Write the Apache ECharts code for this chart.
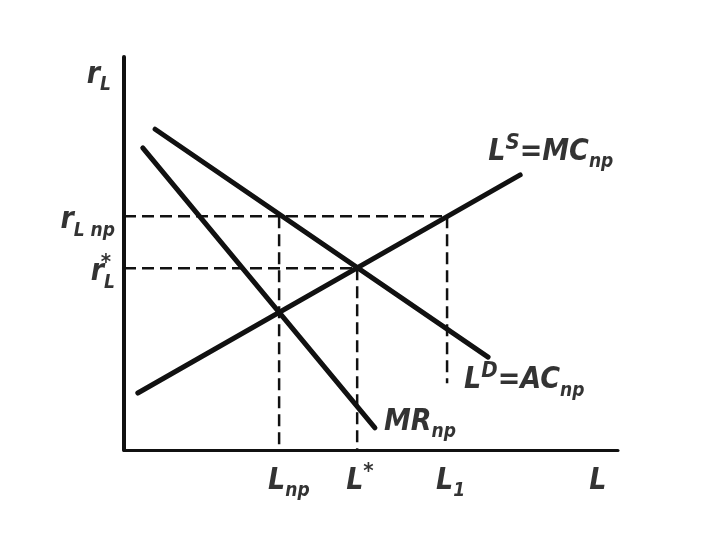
<!DOCTYPE html>
<html>
<head>
<meta charset="utf-8">
<script src="https://cdn.jsdelivr.net/npm/echarts@6/dist/echarts.min.js"></script>
<style>
  html, body { margin: 0; padding: 0; background: #fff; }
  #chart { width: 720px; height: 540px; }
</style>
</head>
<body>
<div id="chart"></div>
<script>
// points (axis units: L 0..10, r 0..8)
var mcLine = [[0.28, 1.16], [8.02, 5.60]];   // L^S = MC
var acLine = [[0.63, 6.53], [7.37, 1.89]];   // L^D = AC
var mrLine = [[0.38, 6.15], [5.08, 0.45]];   // MR

var Lnp = 3.14, Lstar = 4.72, L1 = 6.54;
var rNp = 4.76, rStar = 3.70;
var L1Bottom = 1.36;

var dashH1 = [[0, rNp], [L1, rNp]];
var dashH2 = [[0, rStar], [Lstar, rStar]];
var dashV1 = [[Lnp, rNp], [Lnp, 0]];
var dashV2 = [[Lstar, rStar], [Lstar, 0]];
var dashV3 = [[L1, rNp], [L1, L1Bottom]];

// axis texts
var xLabels = [
  { at: [Lnp, 0], text: '{m|L}{sub|np}' },
  { at: [Lstar, 0], text: '{m|L}{sup|*}' },
  { at: [L1, 0], text: '{m|L}{sub|1}' },
  { at: [9.64, 0], text: '{m|L}' }
];
var yLabels = [
  { at: [0, 7.72], text: '{m|r}{sub|L}', opt: { position: 'left', align: 'right', offset: [-8, 4] } },
  { at: [0, rNp], text: '{m|r}{sub|L np}' },
  { at: [0, rStar], text: '{m|r}{sub|L}' }
];

var font = 'DejaVu Sans Condensed, DejaVu Sans, sans-serif';
var ink = '#000';
var rich = {
  m: { fontSize: 30, fontStyle: 'italic', fontWeight: 'bold', fontFamily: font, lineHeight: 40, color: ink },
  sub: { fontSize: 19, fontStyle: 'italic', fontWeight: 'bold', fontFamily: font, lineHeight: 20, verticalAlign: 'bottom', color: ink },
  sup: { fontSize: 22, fontStyle: 'italic', fontWeight: 'bold', fontFamily: font, lineHeight: 20, verticalAlign: 'top', color: ink }
};

function solid(data) {
  return {
    type: 'line', data: data, symbol: 'none',
    lineStyle: { color: '#111', width: 5, cap: 'round' }, silent: true, z: 3
  };
}
function dashed(data) {
  return {
    type: 'line', data: data, symbol: 'none',
    lineStyle: { color: '#111', width: 2.5, type: [12, 6] }, silent: true, z: 2
  };
}
function texts(list, labelOpt) {
  return {
    type: 'scatter', symbolSize: 0, clip: false, silent: true,
    data: list.map(function (d) {
      var lab = Object.assign({ show: true, formatter: d.text, rich: rich, color: ink }, d.opt || labelOpt);
      return { value: d.at, label: lab };
    })
  };
}

var curveLabels = [
  { at: mcLine[1], text: '{m|L}{sup|S}{m|=MC}{sub|np}', opt: { position: 'top', align: 'left', offset: [-32, 2] } },
  { at: acLine[1], text: '{m|L}{sup|D}{m|=AC}{sub|np}', opt: { position: 'bottom', align: 'left', offset: [-24, -2] } },
  { at: mrLine[1], text: '{m|MR}{sub|np}', opt: { position: 'right', align: 'left', offset: [4, -6] } }
];

var chart = echarts.init(document.getElementById('chart'));
chart.setOption({
  backgroundColor: '#fff',
  animation: false,
  grid: { left: 124, right: 102, top: 57, bottom: 90 },
  xAxis: {
    type: 'value', min: 0, max: 10,
    axisLine: { lineStyle: { color: '#111', width: 3 } },
    axisTick: { show: false }, axisLabel: { show: false }, splitLine: { show: false }
  },
  yAxis: {
    type: 'value', min: 0, max: 8,
    axisLine: { show: true, lineStyle: { color: '#111', width: 4 } },
    axisTick: { show: false }, axisLabel: { show: false }, splitLine: { show: false }
  },
  series: [
    dashed(dashH1), dashed(dashH2), dashed(dashV1), dashed(dashV2), dashed(dashV3),
    solid(mcLine), solid(acLine), solid(mrLine),
    texts(curveLabels),
    texts(xLabels, { position: 'bottom', align: 'left', offset: [-11, 6] }),
    texts(yLabels, { position: 'left', align: 'right', offset: [-4, 4] }),
    texts([{ at: [0, rStar], text: '{sup|*}' }], { position: 'left', align: 'right', offset: [-8, -6] })
  ]
});
</script>
</body>
</html>
